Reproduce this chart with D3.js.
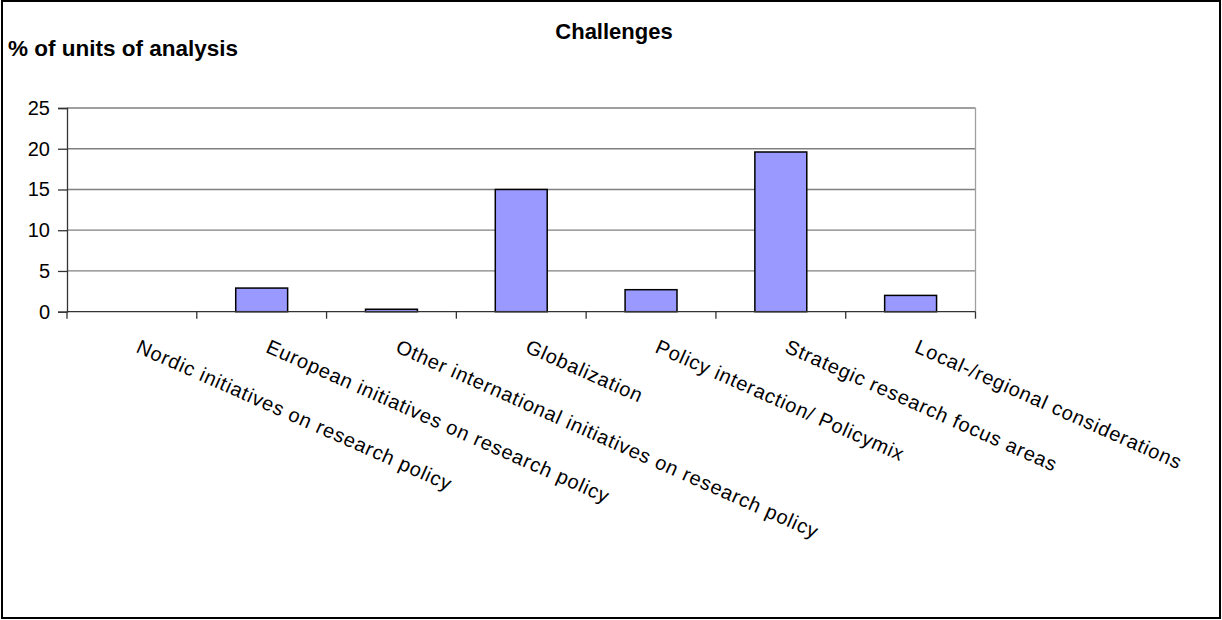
<!DOCTYPE html>
<html>
<head>
<meta charset="utf-8">
<script src="https://cdn.jsdelivr.net/npm/d3@7"></script>
<style>
  html, body { margin: 0; padding: 0; background: #fff; }
  svg { display: block; font-family: "Liberation Sans", Arial, sans-serif; }
</style>
</head>
<body>
<svg id="chart" width="1222" height="620"></svg>
<script>
// Challenges: share of units of analysis per category
const categories = [
  "Nordic initiatives on research policy",
  "European initiatives on research policy",
  "Other international initiatives on research policy",
  "Globalization",
  "Policy interaction/ Policymix",
  "Strategic research focus areas",
  "Local-/regional considerations"
];
const values = [0, 2.9, 0.3, 15.0, 2.7, 19.6, 2.0];
const yTicks = [0, 5, 10, 15, 20, 25];

const svg = d3.select("#chart");

// outer frame
svg.append("rect")
  .attr("x", 2).attr("y", 1).attr("width", 1218).attr("height", 617)
  .attr("fill", "#fff").attr("stroke", "#000").attr("stroke-width", 2);

const plot = { left: 67, right: 975.5, top: 108, bottom: 311.7 };

// one band per category, bars sit centred in each band
const xBand = d3.scaleBand()
  .domain(categories)
  .range([plot.left, plot.right])
  .padding(0);
const barWidth = xBand.bandwidth() * 0.4;

const y = d3.scaleLinear().domain([0, 25]).range([plot.bottom, plot.top]);

// horizontal gridlines
svg.append("g")
  .selectAll("line")
  .data(yTicks.filter(d => d > 0))
  .join("line")
  .attr("x1", plot.left).attr("x2", plot.right)
  .attr("y1", d => y(d)).attr("y2", d => y(d))
  .attr("stroke", "#808080").attr("stroke-width", 1.3);

// right edge of the plot area
svg.append("line")
  .attr("x1", plot.right).attr("x2", plot.right)
  .attr("y1", plot.top).attr("y2", plot.bottom)
  .attr("stroke", "#a0a0a0").attr("stroke-width", 1.3);

// bars
svg.append("g")
  .selectAll("rect")
  .data(values)
  .join("rect")
  .attr("x", (d, i) => xBand(categories[i]) + (xBand.bandwidth() - barWidth) / 2)
  .attr("width", barWidth)
  .attr("y", d => y(d))
  .attr("height", d => y(0) - y(d))
  .attr("fill", "#9999FF")
  .attr("stroke", "#000")
  .attr("stroke-width", 1.5);

// y axis
const yAxis = svg.append("g")
  .attr("transform", `translate(${plot.left},0)`)
  .call(d3.axisLeft(y).tickValues(yTicks).tickSize(9).tickPadding(8));
yAxis.select(".domain").attr("stroke", "#333").attr("stroke-width", 1.3);
yAxis.selectAll(".tick line").attr("stroke", "#333").attr("stroke-width", 1.3);
yAxis.selectAll(".tick text")
  .attr("font-size", 20)
  .attr("font-family", "Liberation Sans, Arial, sans-serif")
  .attr("fill", "#000");

// x axis with ticks at category boundaries
const xAxisG = svg.append("g").attr("transform", `translate(0,${plot.bottom})`);
xAxisG.append("line")
  .attr("x1", plot.left).attr("x2", plot.right)
  .attr("y1", 0).attr("y2", 0)
  .attr("stroke", "#333").attr("stroke-width", 1.3);
const boundaries = categories.map(c => xBand(c)).concat([plot.right]);
xAxisG.selectAll("line.tick")
  .data(boundaries)
  .join("line")
  .attr("class", "tick")
  .attr("x1", d => d).attr("x2", d => d)
  .attr("y1", 0).attr("y2", 7)
  .attr("stroke", "#333").attr("stroke-width", 1.3);

// rotated category labels
xAxisG.selectAll("text.cat")
  .data(categories)
  .join("text")
  .attr("class", "cat")
  .attr("transform", d => `translate(${xBand(d) + xBand.bandwidth() / 2 + 3},${40}) rotate(24)`)
  .attr("font-size", 20)
  .attr("letter-spacing", 0.8)
  .attr("fill", "#000")
  .text(d => d);

// titles
svg.append("text")
  .attr("x", 614).attr("y", 39)
  .attr("text-anchor", "middle")
  .attr("font-size", 22).attr("font-weight", "bold")
  .text("Challenges");

svg.append("text")
  .attr("x", 8).attr("y", 56)
  .attr("font-size", 22.5).attr("font-weight", "bold")
  .text("% of units of analysis");
</script>
</body>
</html>
